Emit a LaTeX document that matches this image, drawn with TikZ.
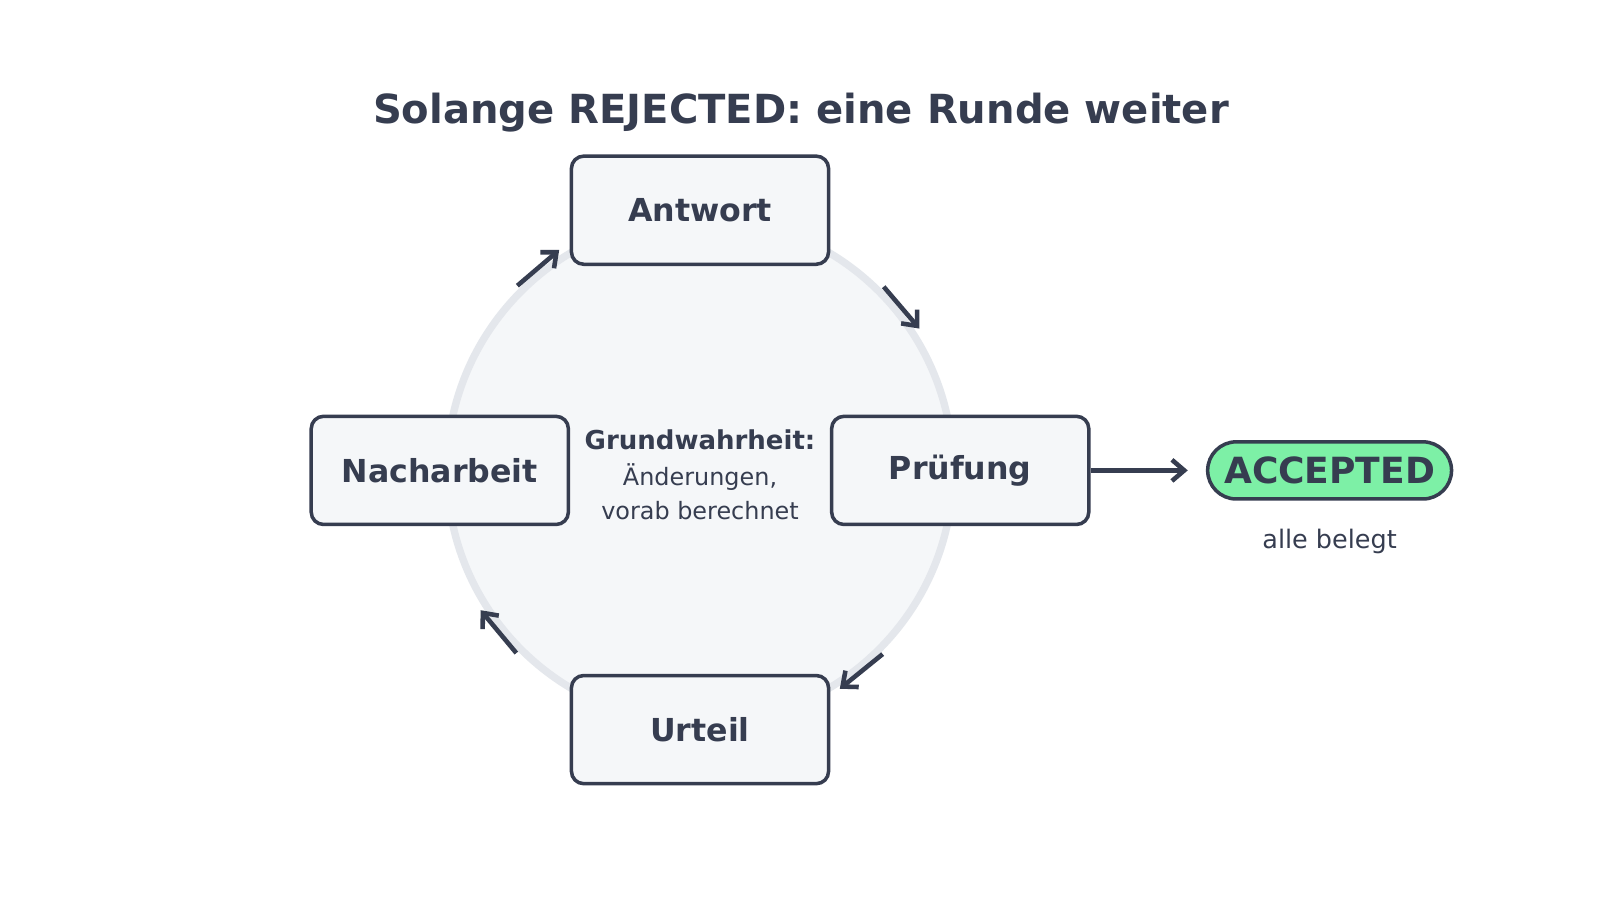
\documentclass[tikz,border=0pt]{standalone}
\usepackage{fontspec}
\setmainfont{DejaVu Sans}
\usetikzlibrary{arrows.meta,shapes.misc}
\definecolor{ink}{HTML}{363D50}
\definecolor{boxfill}{HTML}{F5F7F9}
\definecolor{ringgray}{HTML}{E4E7EC}
\definecolor{acceptgreen}{HTML}{7DF0A6}
\tikzset{
  stage/.style={draw=ink, line width=2pt, fill=boxfill, rounded corners=7pt,
    minimum width=252*0.020408cm, minimum height=106*0.020408cm, inner sep=0pt,
    font=\fontsize{18}{21}\selectfont\bfseries, text=ink},
  flow/.style={draw=ink, line width=2.6pt, -{Straight Barb[length=7pt,width=12pt,line width=2.6pt]}},
  pill/.style={draw=ink, line width=2pt, fill=acceptgreen, rounded rectangle,
    minimum width=239*0.020408cm, minimum height=56*0.020408cm, inner sep=0pt,
    font=\fontsize{20.5}{24}\selectfont\bfseries, text=ink},
  lbl/.style={text=ink, inner sep=0pt}
}
\begin{document}
\begin{tikzpicture}[x=0.020408cm,y=-0.020408cm]
\useasboundingbox (0,0) rectangle (1568,882);
\fill[white] (0,0) rectangle (1568,882);
\node[lbl, font=\fontsize{22.8}{27}\selectfont\bfseries] (title) at (785,110) {Solange REJECTED: eine Runde weiter};
\draw[ringgray, line width=4.2pt, fill=boxfill] (686,461) circle[radius=248];
\node[stage] (antwort) at (686,206) {Antwort};
\node[stage] (pruefung) at (941,461) {Prüfung};
\node[stage] (urteil) at (686,715) {Urteil};
\node[stage] (nach) at (431,461) {Nacharbeit};
\node[lbl, font=\fontsize{14.8}{17}\selectfont\bfseries] (gw) at (686,431) {Grundwahrheit:};
\node[lbl, font=\fontsize{13.6}{16}\selectfont] (aend) at (686,468) {Änderungen,};
\node[lbl, font=\fontsize{13.6}{16}\selectfont] (vorab) at (686,500) {vorab berechnet};
\node[pill] (acc) at (1303,461) {ACCEPTED};
\node[lbl, font=\fontsize{14.5}{17}\selectfont] (belegt) at (1303,531) {alle belegt};
\coordinate (a1s) at (507,280); \coordinate (a1e) at (548,245);
\coordinate (a2s) at (866,281); \coordinate (a2e) at (901,322);
\coordinate (a3s) at (865,641); \coordinate (a3e) at (823,675);
\coordinate (a4s) at (506,640); \coordinate (a4e) at (471,598);
\draw[flow] (a1s) -- (a1e);
\draw[flow] (a2s) -- (a2e);
\draw[flow] (a3s) -- (a3e);
\draw[flow] (a4s) -- (a4e);
\coordinate (accin) at (1164,461);
\draw[flow] (pruefung.east) -- (accin);
\end{tikzpicture}
\end{document}
